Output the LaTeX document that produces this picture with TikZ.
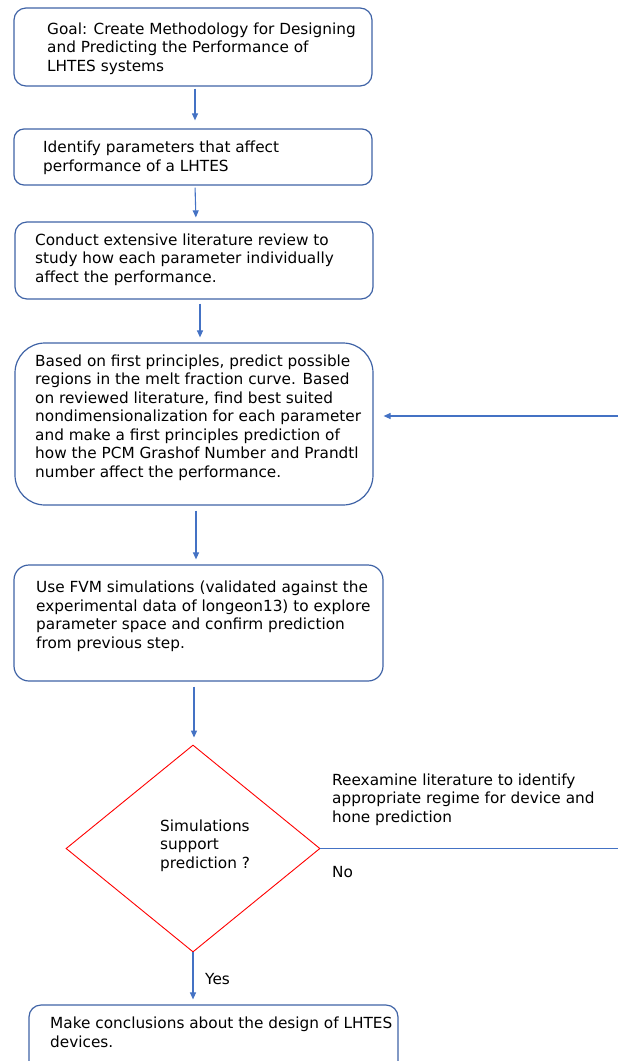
\documentclass[tikz,border=0pt]{standalone}
\usepackage{fontspec}
\setmainfont{DejaVu Sans}
\usetikzlibrary{arrows.meta,shapes.geometric,calc}
\definecolor{lineblue}{HTML}{4472C4}
\definecolor{boxblue}{HTML}{3F63A6}
\begin{document}
\begin{tikzpicture}[x=1pt,y=-1pt,
  box/.style={draw=boxblue, line width=1.2pt, rectangle, inner sep=0pt},
  txt/.style={anchor=base west, inner sep=0pt, align=left, font=\fontsize{15.3}{18.5}\selectfont},
  arr/.style={draw=lineblue, line width=1.1pt, -{Triangle[length=7pt,width=6pt]}},
  ln/.style={draw=lineblue, line width=1.1pt},
  dia/.style={draw=red, line width=0.9pt, diamond, inner sep=0pt}]
\useasboundingbox (0,0) rectangle (618,1061);
\clip (0,0) rectangle (618,1061);

% boxes
\node[box, rounded corners=12pt, minimum width=358pt, minimum height=78pt] (b1) at (193,47) {};
\node[box, rounded corners=10pt, minimum width=358pt, minimum height=56pt] (b2) at (193,157) {};
\node[box, rounded corners=12pt, minimum width=358pt, minimum height=77pt] (b3) at (194,260.5) {};
\node[box, rounded corners=30pt, minimum width=358pt, minimum height=162pt] (b4) at (194,424) {};
\node[box, rounded corners=15pt, minimum width=369pt, minimum height=116pt] (b5) at (198.5,623) {};
\node[dia, minimum width=254pt, minimum height=207pt] (d) at (193,848.5) {};
\node[box, rounded corners=12pt, minimum width=369pt, minimum height=75pt] (b6) at (213.5,1042.5) {};

% texts (positioned at the baseline of their last line)
\node[txt] (t1) at (47,71) {Goal: Create Methodology for Designing\\and Predicting the Performance of\\LHTES systems};
\node[txt] (t2) at (43,171) {Identify parameters that affect\\performance of a LHTES};
\node[txt] (t3) at (35,282) {Conduct extensive literature review to\\study how each parameter individually\\affect the performance.};
\node[txt] (t4) at (35,477) {Based on first principles, predict possible\\regions in the melt fraction curve. Based\\on reviewed literature, find best suited\\nondimensionalization for each parameter\\and make a first principles prediction of\\how the PCM Grashof Number and Prandtl\\number affect the performance.};
\node[txt] (t5) at (36,648) {Use FVM simulations (validated against the\\experimental data of longeon13) to explore\\parameter space and confirm prediction\\from previous step.};
\node[txt] (t6) at (160,868) {Simulations\\support\\prediction ?};
\node[txt] (t7) at (332,822) {Reexamine literature to identify\\appropriate regime for device and\\hone prediction};
\node[txt] (tno) at (332,877) {No};
\node[txt] (tyes) at (205,984) {Yes};
\node[txt] (t8) at (50,1047) {Make conclusions about the design of LHTES\\devices.};

% connectors
\coordinate (fb) at (618,416);
\coordinate (noend) at (618,848.5);
\draw[arr, shorten <=2pt, shorten >=8pt] ([xshift=2pt]b1.south) -- ([xshift=2pt]b2.north);
\draw[arr, shorten <=2pt, shorten >=4pt] ([xshift=2pt]b2.south) -- ([xshift=2pt]b3.north);
\draw[arr, shorten <=4pt, shorten >=5pt] ([xshift=6pt]b3.south) -- ([xshift=6pt]b4.north);
\draw[arr, shorten <=5pt, shorten >=5pt] ([xshift=2pt]b4.south) -- ([xshift=-2.5pt]b5.north);
\draw[arr, shorten <=5pt, shorten >=7pt] ([xshift=-4.5pt]b5.south) -- ([xshift=1pt]d.north);
\draw[arr, shorten >=10pt] (fb) -- (b4.east |- fb);
\draw[ln] (d.east) -- (noend);
\draw[arr, shorten >=5pt] (d.south) -- (d.south |- b6.north);
\end{tikzpicture}
\end{document}
